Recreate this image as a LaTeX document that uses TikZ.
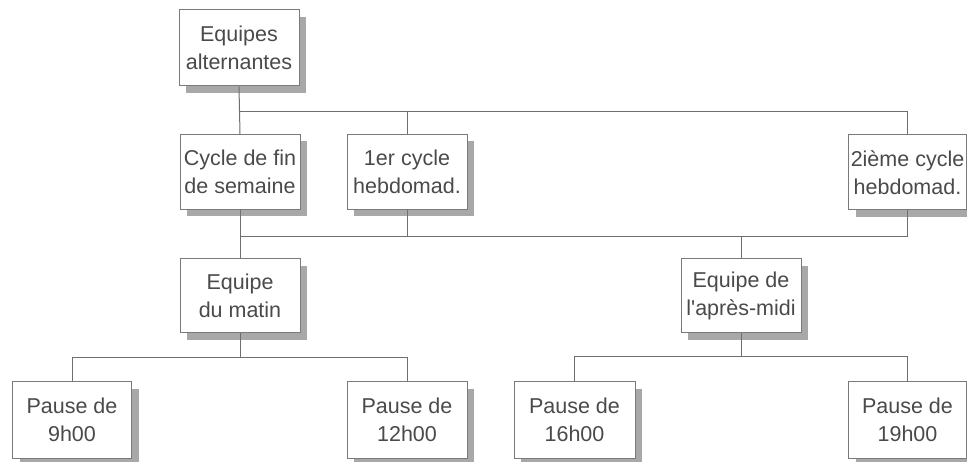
\documentclass[tikz,border=0pt]{standalone}
\usepackage{fontspec}
\setmainfont{Liberation Sans}
\usetikzlibrary{shadows}
\definecolor{boxline}{HTML}{7A7A7A}
\definecolor{shadowc}{HTML}{A8A8A8}
\definecolor{txt}{HTML}{4A4A4A}
\definecolor{conn}{HTML}{6E6E6E}
\begin{document}
\begin{tikzpicture}[x=1pt,y=-1pt,
  boxn/.style={draw=boxline, line width=1pt, fill=white, text=txt,
    minimum width=120pt, minimum height=75pt, inner sep=0pt, align=center,
    font=\fontsize{21.5}{28}\selectfont,
    drop shadow={shadow xshift=7pt, shadow yshift=-7pt, fill=shadowc, opacity=1}},
  connl/.style={draw=conn, line width=1pt}]
\useasboundingbox (0,0) rectangle (967,462);
\fill[white] (0,0) rectangle (967,462);
\node[boxn, minimum height=76pt] (top) at (239,48) {Equipes\\alternantes};
\node[boxn] (cyc1) at (240,172) {Cycle de fin\\de semaine};
\node[boxn] (cyc2) at (407,172) {1er cycle\\hebdomad.};
\node[boxn, minimum width=118pt] (cyc3) at (907.5,172.5) {2ième cycle\\hebdomad.};
\node[boxn, minimum height=74pt] (matin) at (240,296) {Equipe\\du matin};
\node[boxn, minimum height=74pt] (aprem) at (741,296) {Equipe de\\l\textquotesingle après-midi};
\node[boxn, minimum width=119pt, minimum height=76pt] (p9) at (72,420) {Pause de\\9h00};
\node[boxn, minimum height=76pt] (p12) at (407,420) {Pause de\\12h00};
\node[boxn, minimum width=121pt, minimum height=76pt] (p16) at (574.5,420) {Pause de\\16h00};
\node[boxn, minimum width=118pt, minimum height=76pt] (p19) at (907.5,420) {Pause de\\19h00};
\coordinate (b1) at (239,112);
\coordinate (b2) at (240,237);
\coordinate (b3) at (240,358);
\coordinate (b4) at (741,357);
\draw[connl] (top.south) -- (cyc1.north);
\draw[connl] (b1) -| (cyc2.north);
\draw[connl] (b1) -| (cyc3.north);
\draw[connl] (cyc1.south) -- (matin.north);
\draw[connl] (b2) -| (cyc2.south);
\draw[connl] (b2) -| (cyc3.south);
\draw[connl] (b2) -| (aprem.north);
\draw[connl] (matin.south) -- (b3);
\draw[connl] (b3) -| (p9.north);
\draw[connl] (b3) -| (p12.north);
\draw[connl] (aprem.south) -- (b4);
\draw[connl] (b4) -| (p16.north);
\draw[connl] (b4) -| (p19.north);
\end{tikzpicture}
\end{document}
